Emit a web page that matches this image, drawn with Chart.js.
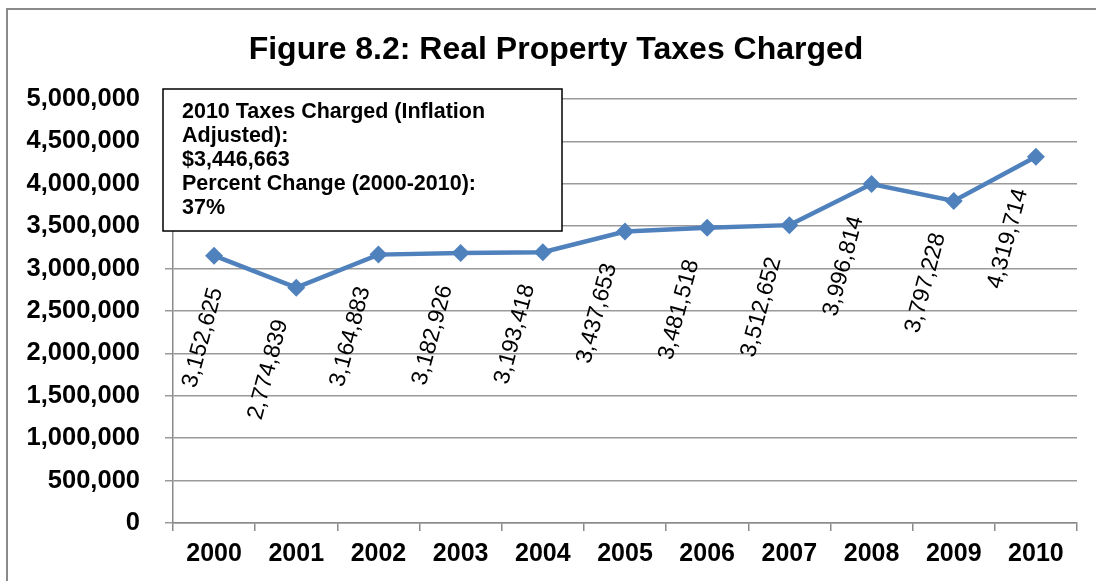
<!DOCTYPE html>
<html lang="en">
<head>
  <meta charset="UTF-8" />
  <title>Figure 8.2: Real Property Taxes Charged</title>
  <script src="https://cdn.jsdelivr.net/npm/chart.js"></script>
  <style>
    body { margin: 0; padding: 0; background: #fff; }
    canvas { display: block; }
  </style>
</head>
<body>
  <canvas id="taxChart" width="1096" height="581"></canvas>
  <script>
    const chartTitle = 'Figure 8.2: Real Property Taxes Charged';
    const years = ['2000', '2001', '2002', '2003', '2004', '2005', '2006', '2007', '2008', '2009', '2010'];
    const taxesCharged = [3152625, 2774839, 3164883, 3182926, 3193418, 3437653, 3481518, 3512652, 3996814, 3797228, 4319714];
    const noteLines = [
      '2010 Taxes Charged (Inflation',
      'Adjusted):',
      '$3,446,663',
      'Percent Change (2000-2010):',
      '37%'
    ];

    const FONT = '"Liberation Sans", Arial, sans-serif';
    const fmt = v => v.toLocaleString('en-US');

    // outer frame + title, Excel style (title sits a bit right of the canvas centre)
    const framePlugin = {
      id: 'frame',
      beforeDraw(chart) {
        const c = chart.ctx;
        c.save();
        c.fillStyle = '#fff';
        c.fillRect(0, 0, chart.width, chart.height);
        c.strokeStyle = '#8a8a8a';
        c.lineWidth = 2;
        c.beginPath();
        c.moveTo(7, chart.height);
        c.lineTo(7, 9);
        c.lineTo(chart.width, 9);
        c.stroke();
        c.font = 'bold 32px ' + FONT;
        c.fillStyle = '#000';
        c.textAlign = 'center';
        c.textBaseline = 'middle';
        c.fillText(chartTitle, 556, 50);
        c.restore();
      }
    };

    // rotated value labels under each point
    const valueLabels = {
      id: 'valueLabels',
      afterDatasetsDraw(chart) {
        const c = chart.ctx;
        const meta = chart.getDatasetMeta(0);
        const area = chart.chartArea;
        const deg = 75 * Math.PI / 180;
        c.save();
        c.font = '23px ' + FONT;
        c.fillStyle = '#000';
        c.textAlign = 'center';
        c.textBaseline = 'middle';
        meta.data.forEach((pt, i) => {
          const txt = fmt(taxesCharged[i]);
          const w = c.measureText(txt).width;
          const half = (w * Math.cos(deg) + 18 * Math.sin(deg)) / 2;
          const cx = Math.max(pt.x - 28, area.left + half + 8);
          const cy = pt.y + 82;
          c.save();
          c.translate(cx, cy);
          c.rotate(-deg);
          c.fillText(txt, 0, 0);
          c.restore();
        });
        c.restore();
      }
    };

    // the text box in the top left
    const noteBox = {
      id: 'noteBox',
      afterDraw(chart) {
        const c = chart.ctx;
        c.save();
        c.fillStyle = '#fff';
        c.fillRect(163, 89, 399, 142);
        c.strokeStyle = '#000';
        c.lineWidth = 1.5;
        c.strokeRect(163, 89, 399, 142);
        c.font = 'bold 21.5px ' + FONT;
        c.fillStyle = '#000';
        c.textBaseline = 'middle';
        noteLines.forEach((t, i) => c.fillText(t, 182, 112 + i * 24));
        c.restore();
      }
    };

    new Chart(document.getElementById('taxChart'), {
      type: 'line',
      data: {
        labels: years,
        datasets: [{
          data: taxesCharged,
          borderColor: '#4F81BD',
          backgroundColor: '#4F81BD',
          borderWidth: 4.5,
          pointStyle: 'rectRot',
          pointRadius: 9,
          pointHoverRadius: 9,
          pointBackgroundColor: '#4F81BD',
          pointBorderWidth: 0,
          tension: 0
        }]
      },
      options: {
        responsive: false,
        animation: false,
        layout: { padding: { left: 0, right: 19, top: 99, bottom: 0 } },
        plugins: {
          legend: { display: false },
          tooltip: { enabled: false },
          title: { display: false }
        },
        scales: {
          x: {
            offset: true,
            afterFit: s => { s.height = 58; },
            grid: { offset: true, drawOnChartArea: false, color: '#8a8a8a', tickLength: 8, lineWidth: 1.5 },
            border: { color: '#8a8a8a', width: 1.5 },
            ticks: { color: '#000', padding: 8, font: { family: FONT, size: 25, weight: 'bold' } }
          },
          y: {
            min: 0,
            max: 5000000,
            afterFit: s => { s.width = 173; },
            grid: { color: '#9a9a9a', tickLength: 8, lineWidth: 1.5 },
            border: { color: '#8a8a8a', width: 1.5 },
            ticks: {
              stepSize: 500000,
              color: '#000',
              padding: 25,
              font: { family: FONT, size: 25.5, weight: 'bold' },
              callback: v => fmt(v)
            }
          }
        }
      },
      plugins: [framePlugin, valueLabels, noteBox]
    });
  </script>
</body>
</html>
